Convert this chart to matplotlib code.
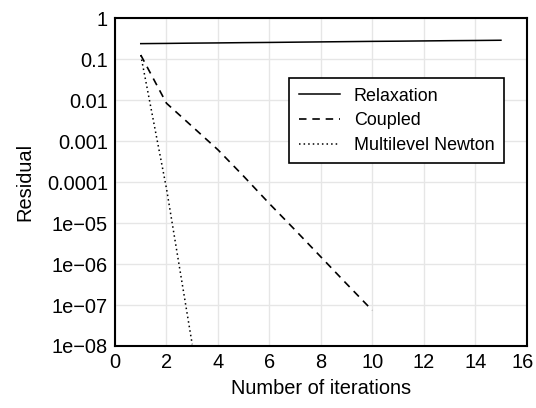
import matplotlib
matplotlib.use('Agg')
import matplotlib.pyplot as plt
import matplotlib.transforms as mtransforms

plt.rcParams['font.family'] = 'sans-serif'
plt.rcParams['font.sans-serif'] = ['Liberation Sans', 'DejaVu Sans']

# data
relax_x = list(range(1, 16))
relax_y = [0.243, 0.246, 0.250, 0.253, 0.257, 0.260, 0.264, 0.268, 0.272,
           0.276, 0.279, 0.283, 0.287, 0.290, 0.294]
coupled_x = list(range(1, 11))
coupled_y = [0.128, 8.5e-3, 2.3e-3, 6.2e-4, 1.4e-4, 3.0e-5, 6.8e-6, 1.5e-6, 3.3e-7, 7.4e-8]
newton_x = [1, 2, 3]
newton_y = [0.128, 7e-5, 1.1e-8]

xticks = [0, 2, 4, 6, 8, 10, 12, 14, 16]
yticks = [1, 0.1, 0.01, 1e-3, 1e-4, 1e-5, 1e-6, 1e-7, 1e-8]
ytick_labels = ['1', '0.1', '0.01', '0.001', '0.0001',
                '1e\u221205', '1e\u221206', '1e\u221207', '1e\u221208']

fs = 14.4
fs_leg = 12.9
fig = plt.figure(figsize=(5.36, 4.08), dpi=100)
ax = fig.add_axes([0.2146, 0.152, 0.768, 0.8027])

ax.plot(relax_x, relax_y, color='black', lw=1.1, ls='-', label='Relaxation')
ax.plot(coupled_x, coupled_y, color='black', lw=1.2, ls=(0, (4.5, 3.5)), label='Coupled')
ax.plot(newton_x, newton_y, color='black', lw=1.1, ls=(0, (1, 2)), label='Multilevel Newton')

ax.set_yscale('log')
ax.set_xlim(0, 16)
ax.set_ylim(1e-8, 1)
ax.set_xticks(xticks)
ax.set_xticklabels([str(t) for t in xticks])
ax.set_yticks(yticks)
ax.set_yticklabels(ytick_labels)
ax.minorticks_off()
ax.tick_params(axis='both', length=0, labelsize=fs, pad=5, colors='black')

# nudge the last x label a little so it stays inside the figure
last = ax.get_xticklabels()[-1]
last.set_transform(last.get_transform() +
                   mtransforms.ScaledTranslation(-4 / 100, 0, fig.dpi_scale_trans))

ax.grid(True, color='#e6e6e6', lw=1.0)
ax.set_axisbelow(True)
for s in ax.spines.values():
    s.set_linewidth(1.5)
    s.set_color('black')

ax.set_xlabel('Number of iterations', fontsize=fs, labelpad=5)
ax.set_ylabel('Residual', fontsize=fs, labelpad=9)

leg = ax.legend(loc='upper right', bbox_to_anchor=(0.944, 0.817), fontsize=fs_leg,
                frameon=True, fancybox=False, edgecolor='black', framealpha=1,
                handlelength=2.3, handletextpad=0.77, labelspacing=0.43,
                borderpad=0.52, borderaxespad=0)
leg.get_frame().set_linewidth(1.2)

plt.savefig('out.png', dpi=100)
